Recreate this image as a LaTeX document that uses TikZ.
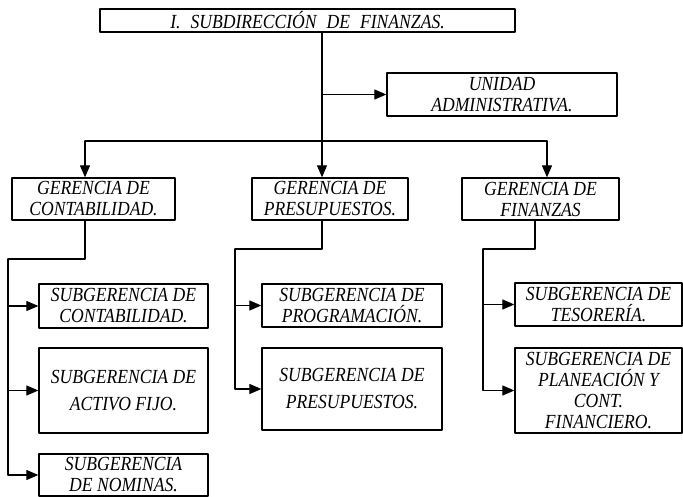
\documentclass[tikz,border=0pt]{standalone}
\usepackage{fontspec}
\setmainfont{Liberation Serif}[FakeStretch=0.88]
\usetikzlibrary{arrows.meta}
\usetikzlibrary{positioning}

\begin{document}
\begin{tikzpicture}[line cap=round,line join=round,>={Triangle[length=12pt,width=10pt]},x=1pt,y=-1pt,
  box/.style={draw,line width=1.3pt,align=center,inner sep=2pt,
    font=\itshape\fontsize{20}{21}\selectfont},
  link/.style={line width=1.2pt}]
\useasboundingbox (0,0) rectangle (683,497);
% direccion y unidad
\node[box,minimum width=415,minimum height=23] (sdf) at (307.5,20.5) {I.\enspace SUBDIRECCIÓN\enspace DE\enspace FINANZAS.};
\node[box,minimum width=230,minimum height=43] (uadm) at (502,94.5) {UNIDAD\\ADMINISTRATIVA.};
% gerencias
\node[box,minimum width=163,minimum height=42] (gcont) at (93.5,199) {GERENCIA DE\\CONTABILIDAD.};
\node[box,minimum width=156,minimum height=42] (gpres) at (330,199) {GERENCIA DE\\PRESUPUESTOS.};
\node[box,minimum width=157,minimum height=42] (gfin) at (540.5,199) {GERENCIA DE\\FINANZAS};
% subgerencias
\node[box,minimum width=169,minimum height=44] (scont) at (123.5,306) {SUBGERENCIA DE\\CONTABILIDAD.};
\node[box,minimum width=169,minimum height=85,font=\itshape\fontsize{20}{27}\selectfont] (sact) at (123.5,390.5) {SUBGERENCIA DE\\ACTIVO FIJO.};
\node[box,minimum width=169,minimum height=42] (snom) at (123.5,475) {SUBGERENCIA\\DE NOMINAS.};
\node[box,minimum width=180,minimum height=43] (sprog) at (352,305.5) {SUBGERENCIA DE\\PROGRAMACIÓN.};
\node[box,minimum width=180,minimum height=82,font=\itshape\fontsize{20}{27}\selectfont] (spres) at (352,389) {SUBGERENCIA DE\\PRESUPUESTOS.};
\node[box,minimum width=167,minimum height=43] (steso) at (598.5,304.5) {SUBGERENCIA DE\\TESORERÍA.};
\node[box,minimum width=167,minimum height=85] (splan) at (598.5,390.5) {SUBGERENCIA DE\\PLANEACIÓN Y\\CONT.\\FINANCIERO.};
% puntos de union
\coordinate (eje) at (322,141);
\coordinate (izq) at (85,141);
\coordinate (der) at (547,141);
\coordinate (ca) at (85,259);
\coordinate (cb) at (8,259);
\coordinate (pa) at (322,249);
\coordinate (pb) at (235,249);
\coordinate (fa) at (535,249);
\coordinate (fb) at (483,249);
% lineas principales
\draw[link] (sdf.south -| eje) -- (eje);
\draw[link,->] (uadm.west -| eje) -- (uadm.west);
\draw[link] (izq) -- (der);
\draw[link,->] (izq) -- (izq |- gcont.north);
\draw[link,->] (eje) -- (eje |- gpres.north);
\draw[link,->] (der) -- (der |- gfin.north);
% contabilidad
\draw[link] (gcont.south -| ca) -- (ca) -- (cb);
\draw[link,->] (cb) |- (snom.west);
\draw[link,->] (cb |- scont.west) -- (scont.west);
\draw[link,->] (cb |- sact.west) -- (sact.west);
% presupuestos
\draw[link] (gpres.south -| pa) -- (pa) -- (pb);
\draw[link,->] (pb) |- (spres.west);
\draw[link,->] (pb |- sprog.west) -- (sprog.west);
% finanzas
\draw[link] (gfin.south -| fa) -- (fa) -- (fb);
\draw[link,->] (fb) |- (splan.west);
\draw[link,->] (fb |- steso.west) -- (steso.west);
\end{tikzpicture}
\end{document}
